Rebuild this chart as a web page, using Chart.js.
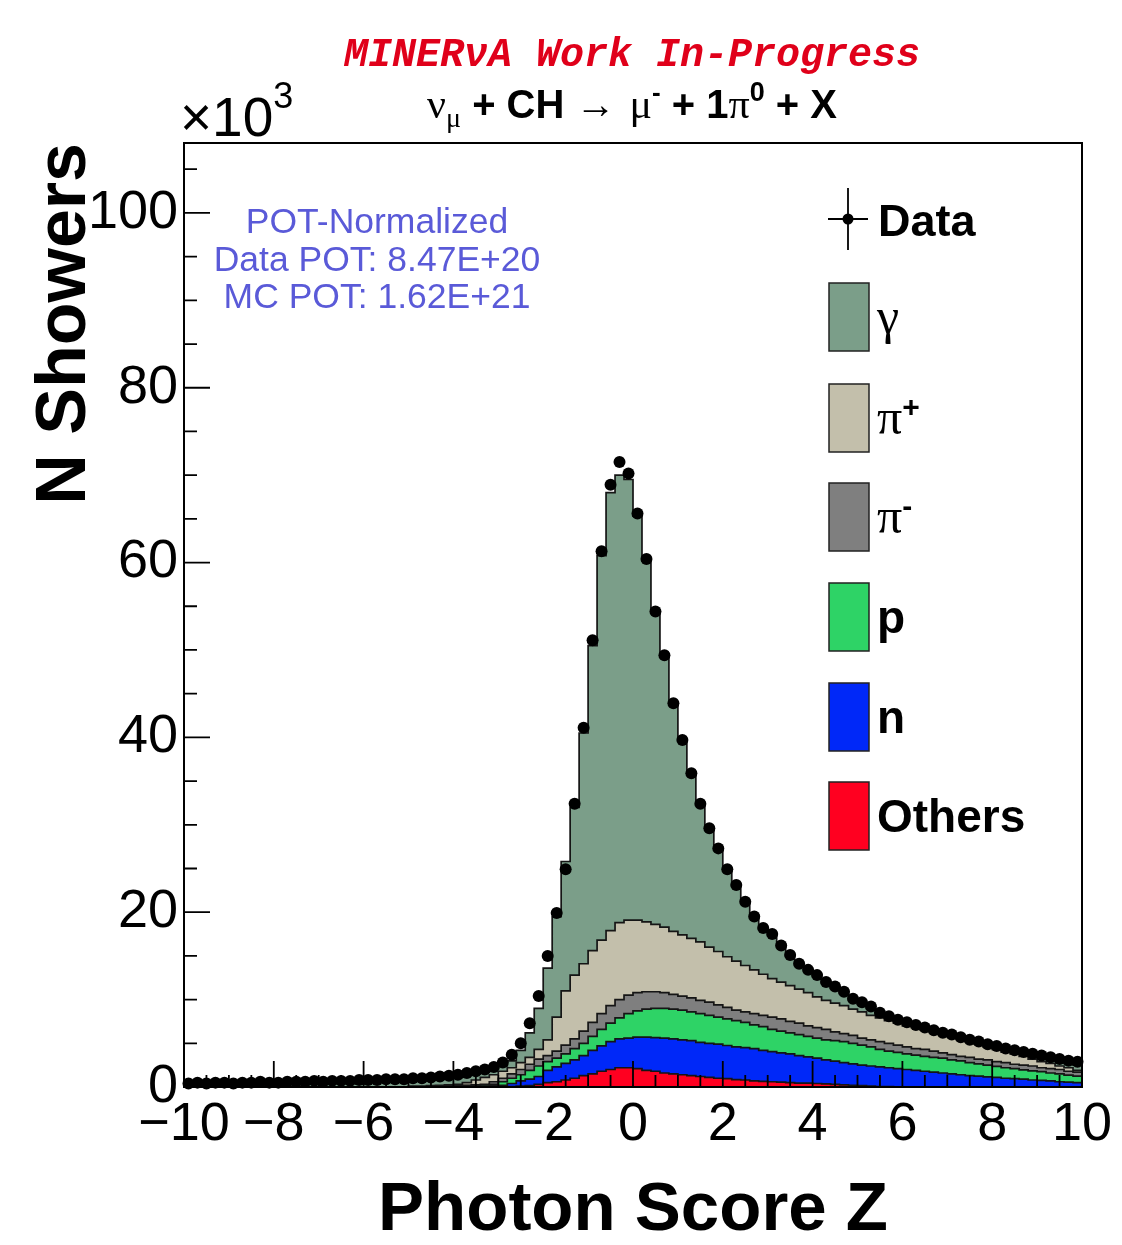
<!DOCTYPE html>
<html>
<head>
<meta charset="utf-8">
<script src="https://cdn.jsdelivr.net/npm/chart.js@4.4.1/dist/chart.umd.min.js"></script>
<style>
  html, body { margin: 0; padding: 0; background: #fff; }
  #wrap { width: 1122px; height: 1245px; }
</style>
</head>
<body>
<div id="wrap"><canvas id="zscore"></canvas></div>
<script>
// 100 bins of 0.2 from -10 to 10, values in units of 10^3 showers
var binLow = -10;
var binWidth = 0.2;

var xTicks = [-10, -8, -6, -4, -2, 0, 2, 4, 6, 8, 10];
var yTicks = [0, 20, 40, 60, 80, 100];

var dataCounts = [
  0.4, 0.5, 0.4, 0.5, 0.5, 0.4, 0.5, 0.5, 0.6, 0.5,
  0.5, 0.6, 0.6, 0.6, 0.7, 0.6, 0.7, 0.7, 0.7, 0.8,
  0.8, 0.8, 0.9, 0.9, 0.9, 1.0, 1.0, 1.1, 1.2, 1.3,
  1.4, 1.6, 1.8, 2.0, 2.3, 2.8, 3.7, 5.0, 7.3, 10.4,
  15.0, 19.9, 24.9, 32.4, 41.1, 51.1, 61.3, 68.9, 71.5, 70.2,
  65.6, 60.4, 54.4, 49.4, 43.9, 39.7, 35.9, 32.4, 29.6, 27.3,
  24.9, 23.1, 21.2, 19.5, 18.2, 17.5, 16.2, 15.1, 14.1, 13.4,
  12.8, 12.0, 11.5, 10.9, 10.1, 9.7, 9.2, 8.5, 8.1, 7.7,
  7.4, 7.1, 6.8, 6.5, 6.2, 6.0, 5.7, 5.4, 5.2, 4.9,
  4.7, 4.4, 4.2, 4.0, 3.8, 3.6, 3.4, 3.2, 3.0, 2.9
];

// upper edge of each stacked MC layer
var othersTop = [
  0, 0, 0, 0, 0, 0, 0, 0, 0, 0,
  0, 0, 0, 0, 0, 0, 0, 0, 0, 0,
  0, 0, 0, 0, 0, 0, 0, 0, 0, 0,
  0, 0, 0, 0, 0, 0, 0.05, 0.1, 0.15, 0.3,
  0.5, 0.6, 0.8, 1.0, 1.3, 1.5, 1.8, 2.0, 2.2, 2.2,
  2.1, 1.9, 1.8, 1.6, 1.5, 1.4, 1.3, 1.2, 1.1, 1.0,
  0.95, 0.85, 0.8, 0.7, 0.65, 0.6, 0.55, 0.5, 0.45, 0.45,
  0.4, 0.35, 0.3, 0.25, 0.2, 0.15, 0.1, 0.05, 0.05, 0,
  0, 0, 0, 0, 0, 0, 0, 0, 0, 0,
  0, 0, 0, 0, 0, 0, 0, 0, 0, 0
];
var neutronTop = [
  0, 0, 0, 0, 0, 0, 0, 0, 0, 0,
  0, 0, 0, 0, 0, 0, 0, 0, 0, 0,
  0, 0, 0, 0, 0, 0, 0, 0, 0.05, 0.05,
  0.05, 0.05, 0.1, 0.1, 0.15, 0.2, 0.4, 0.7, 0.9, 1.2,
  1.9, 2.3, 2.7, 3.1, 3.6, 4.2, 4.7, 5.2, 5.5, 5.6,
  5.7, 5.7, 5.65, 5.6, 5.5, 5.4, 5.3, 5.1, 5.0, 4.9,
  4.75, 4.6, 4.5, 4.4, 4.2, 4.05, 3.9, 3.8, 3.6, 3.45,
  3.3, 3.1, 2.95, 2.8, 2.65, 2.5, 2.4, 2.3, 2.2, 2.1,
  2.0, 1.9, 1.8, 1.7, 1.6, 1.5, 1.4, 1.3, 1.25, 1.15,
  1.1, 1.0, 0.95, 0.9, 0.8, 0.75, 0.7, 0.6, 0.55, 0.5
];
var protonTop = [
  0, 0, 0, 0, 0, 0, 0, 0, 0, 0,
  0, 0, 0, 0, 0, 0, 0, 0, 0, 0,
  0, 0, 0, 0, 0, 0, 0, 0, 0.1, 0.1,
  0.1, 0.15, 0.2, 0.25, 0.3, 0.6, 1.0, 1.4, 1.9, 2.4,
  2.9, 3.3, 3.8, 4.4, 5.0, 5.8, 6.6, 7.3, 7.9, 8.4,
  8.7, 8.9, 9.0, 9.0, 8.9, 8.8, 8.6, 8.4, 8.2, 8.0,
  7.8, 7.6, 7.4, 7.1, 6.9, 6.6, 6.4, 6.2, 6.0, 5.8,
  5.6, 5.4, 5.3, 5.2, 5.0, 4.8, 4.6, 4.3, 4.1, 3.95,
  3.8, 3.65, 3.5, 3.4, 3.3, 3.1, 3.0, 2.8, 2.65, 2.5,
  2.35, 2.2, 2.1, 1.95, 1.85, 1.75, 1.6, 1.5, 1.35, 1.25
];
var piMinusTop = [
  0, 0, 0, 0, 0, 0, 0, 0, 0, 0,
  0, 0, 0, 0, 0, 0, 0, 0, 0, 0,
  0, 0, 0, 0, 0, 0, 0, 0, 0.1, 0.12,
  0.15, 0.2, 0.25, 0.3, 0.6, 1.0, 1.5, 2.0, 2.6, 3.2,
  3.6, 4.1, 4.8, 5.5, 6.4, 7.4, 8.4, 9.3, 10.0, 10.5,
  10.8, 10.9, 10.9, 10.8, 10.6, 10.4, 10.2, 9.9, 9.7, 9.4,
  9.1, 8.8, 8.6, 8.4, 8.2, 8.0, 7.8, 7.5, 7.3, 7.0,
  6.8, 6.6, 6.3, 6.1, 5.9, 5.6, 5.4, 5.2, 5.0, 4.8,
  4.6, 4.4, 4.3, 4.1, 3.9, 3.7, 3.5, 3.4, 3.2, 3.1,
  2.9, 2.8, 2.6, 2.5, 2.4, 2.2, 2.1, 2.0, 1.8, 1.7
];
var piPlusTop = [
  0, 0, 0, 0, 0, 0, 0, 0, 0, 0,
  0, 0, 0, 0, 0, 0, 0, 0, 0, 0,
  0, 0, 0, 0, 0, 0.1, 0.1, 0.15, 0.2, 0.25,
  0.3, 0.5, 0.8, 1.1, 1.4, 1.8, 2.2, 2.8, 3.4, 4.3,
  5.4, 8.0, 11.0, 12.8, 14.1, 15.6, 16.8, 17.9, 18.8, 19.1,
  19.1, 18.9, 18.6, 18.3, 17.8, 17.4, 17.0, 16.6, 16.0, 15.5,
  14.9, 14.4, 13.9, 13.4, 12.9, 12.4, 12.0, 11.6, 11.2, 10.8,
  10.3, 9.9, 9.6, 9.3, 8.9, 8.6, 8.2, 7.9, 7.6, 7.3,
  7.0, 6.8, 6.5, 6.3, 6.1, 5.8, 5.5, 5.2, 4.9, 4.6,
  4.3, 4.0, 3.8, 3.5, 3.2, 2.9, 2.7, 2.4, 2.2, 1.9
];
var gammaTop = [
  0.3, 0.3, 0.3, 0.3, 0.3, 0.3, 0.3, 0.35, 0.35, 0.35,
  0.4, 0.4, 0.4, 0.4, 0.45, 0.45, 0.5, 0.5, 0.5, 0.55,
  0.55, 0.6, 0.6, 0.65, 0.7, 0.7, 0.75, 0.8, 0.9, 1.0,
  1.1, 1.3, 1.5, 1.7, 2.0, 2.4, 3.0, 4.2, 6.2, 9.0,
  13.6, 19.5, 25.8, 32.0, 40.5, 50.5, 60.8, 68.0, 70.0, 69.5,
  65.3, 60.2, 54.3, 49.3, 43.8, 39.6, 35.8, 32.3, 29.5, 27.2,
  24.8, 23.0, 21.1, 19.4, 18.1, 17.3, 16.1, 15.0, 14.0, 13.3,
  12.6, 11.9, 11.3, 10.7, 10.0, 9.5, 9.0, 8.4, 8.0, 7.6,
  7.3, 7.0, 6.7, 6.4, 6.1, 5.9, 5.6, 5.3, 5.1, 4.8,
  4.6, 4.3, 4.1, 3.8, 3.6, 3.4, 3.2, 3.0, 2.7, 2.5
];

var SANS = "'Liberation Sans', Arial, Helvetica, sans-serif";
var SERIF = "'Liberation Serif', 'Times New Roman', serif";

var layers = [
  { label: 'Others', tops: othersTop, color: '#ff0020' },
  { label: 'n', tops: neutronTop, color: '#0028f8' },
  { label: 'p', tops: protonTop, color: '#2ed366' },
  { label: 'pi-', tops: piMinusTop, color: '#7f7f7f' },
  { label: 'pi+', tops: piPlusTop, color: '#c3bfab' },
  { label: 'gamma', tops: gammaTop, color: '#7b9e89' }
];

// step points on bin low edges, closing point at the upper edge
function histPoints(tops) {
  var pts = tops.map(function (v, i) { return { x: binLow + i * binWidth, y: v }; });
  pts.push({ x: binLow + tops.length * binWidth, y: tops[tops.length - 1] });
  return pts;
}

var datasets = layers.map(function (l, i) {
  return {
    label: l.label,
    data: histPoints(l.tops),
    stepped: 'before',
    borderColor: '#151515',
    borderWidth: 1.7,
    backgroundColor: l.color,
    fill: i === 0 ? 'origin' : '-1',
    pointRadius: 0,
    order: 1
  };
});

datasets.push({
  label: 'Data',
  data: dataCounts.map(function (v, i) { return { x: binLow + (i + 0.5) * binWidth, y: v }; }),
  showLine: false,
  fill: false,
  pointRadius: 6,
  pointBackgroundColor: '#000',
  pointBorderColor: '#000',
  pointBorderWidth: 0,
  clip: 8,
  order: -1
});

// data horizontal bars (bin width)
var dataErrors = {
  id: 'dataErrors',
  afterDatasetsDraw: function (chart) {
    var ctx = chart.ctx, x = chart.scales.x, y = chart.scales.y;
    ctx.save();
    ctx.strokeStyle = '#000';
    ctx.lineWidth = 2;
    ctx.beginPath();
    dataCounts.forEach(function (v, i) {
      var lo = binLow + i * binWidth;
      var py = y.getPixelForValue(v);
      ctx.moveTo(x.getPixelForValue(lo), py);
      ctx.lineTo(x.getPixelForValue(lo + binWidth), py);
    });
    ctx.stroke();
    ctx.restore();
  }
};

// ROOT-like frame with inward ticks
var frameTicks = {
  id: 'frameTicks',
  afterDatasetsDraw: function (chart) {
    var ctx = chart.ctx, a = chart.chartArea, x = chart.scales.x, y = chart.scales.y;
    ctx.save();
    ctx.strokeStyle = '#000';
    ctx.lineWidth = 2;
    ctx.strokeRect(a.left, a.top, a.right - a.left, a.bottom - a.top);
    ctx.lineWidth = 1.8;
    ctx.beginPath();
    for (var v = x.min; v <= x.max + 1e-6; v += 0.5) {
      var px = x.getPixelForValue(v);
      var len = Math.abs(v % 2) < 1e-6 ? 26 : 12;
      ctx.moveTo(px, a.bottom);
      ctx.lineTo(px, a.bottom - len);
    }
    for (var w = 0; w <= y.max; w += 5) {
      var py = y.getPixelForValue(w);
      var l2 = w % 20 === 0 ? 26 : 13;
      ctx.moveTo(a.left, py);
      ctx.lineTo(a.left + l2, py);
    }
    ctx.stroke();
    ctx.restore();
  }
};

function drawRuns(ctx, runs, x0, base) {
  var x = x0;
  runs.forEach(function (r) {
    ctx.font = r.font;
    ctx.fillStyle = r.color || '#000';
    ctx.fillText(r.t, x, base + (r.dy || 0));
    x += ctx.measureText(r.t).width + (r.gap || 0);
  });
}
function runsWidth(ctx, runs) {
  var w = 0;
  runs.forEach(function (r) { ctx.font = r.font; w += ctx.measureText(r.t).width + (r.gap || 0); });
  return w;
}

var annotations = {
  id: 'annotations',
  afterDraw: function (chart) {
    var ctx = chart.ctx;
    ctx.save();
    ctx.textBaseline = 'alphabetic';
    ctx.textAlign = 'left';

    // preliminary label
    ctx.font = "italic bold 40px 'Liberation Mono', 'Courier New', monospace";
    ctx.fillStyle = '#e0001a';
    ctx.textAlign = 'center';
    ctx.fillText('MINERνA Work In-Progress', 632, 66);
    ctx.textAlign = 'left';

    // process line
    var b40 = 'bold 40px ' + SANS;
    var s40 = '42px ' + SERIF;
    var runs = [
      { t: 'ν', font: s40 },
      { t: 'μ', font: '28px ' + SERIF, dy: 9 },
      { t: ' + CH ', font: b40 },
      { t: '→', font: '40px ' + SERIF, gap: 14 },
      { t: 'μ', font: s40 },
      { t: '-', font: 'bold 26px ' + SANS, dy: -17 },
      { t: ' + 1', font: b40 },
      { t: 'π', font: s40 },
      { t: '0', font: 'bold 27px ' + SANS, dy: -17 },
      { t: ' + X', font: b40 }
    ];
    drawRuns(ctx, runs, 632 - runsWidth(ctx, runs) / 2, 118);

    // axis multiplier
    drawRuns(ctx, [
      { t: '×10', font: '55px ' + SANS },
      { t: '3', font: '36px ' + SANS, dy: -28 }
    ], 180, 136);

    // POT box
    ctx.font = '35.5px ' + SANS;
    ctx.fillStyle = '#5a5ad8';
    ctx.textAlign = 'center';
    ctx.fillText('POT-Normalized', 377, 233);
    ctx.fillText('Data POT: 8.47E+20', 377, 271);
    ctx.fillText('MC POT: 1.62E+21', 377, 308);
    ctx.textAlign = 'left';

    // legend
    ctx.strokeStyle = '#000';
    ctx.lineWidth = 1.8;
    ctx.beginPath();
    ctx.moveTo(848, 188); ctx.lineTo(848, 250);
    ctx.moveTo(828, 219); ctx.lineTo(868, 219);
    ctx.stroke();
    ctx.beginPath();
    ctx.arc(848, 219, 5.5, 0, Math.PI * 2);
    ctx.fillStyle = '#000';
    ctx.fill();
    drawRuns(ctx, [{ t: 'Data', font: 'bold 45px ' + SANS }], 878, 236);

    var entries = [
      { layer: 5, cy: 317, runs: [{ t: 'γ', font: '50px ' + SERIF }] },
      { layer: 4, cy: 418, runs: [{ t: 'π', font: '50px ' + SERIF }, { t: '+', font: 'bold 30px ' + SANS, dy: -17 }] },
      { layer: 3, cy: 517, runs: [{ t: 'π', font: '50px ' + SERIF }, { t: '-', font: 'bold 30px ' + SANS, dy: -17 }] },
      { layer: 2, cy: 617, runs: [{ t: 'p', font: 'bold 46px ' + SANS }] },
      { layer: 1, cy: 717, runs: [{ t: 'n', font: 'bold 46px ' + SANS }] },
      { layer: 0, cy: 816, runs: [{ t: 'Others', font: 'bold 46px ' + SANS }] }
    ];
    entries.forEach(function (e) {
      ctx.fillStyle = layers[e.layer].color;
      ctx.fillRect(829, e.cy - 34, 40, 68);
      ctx.strokeStyle = '#222';
      ctx.lineWidth = 1.5;
      ctx.strokeRect(829, e.cy - 34, 40, 68);
      drawRuns(ctx, e.runs, 877, e.cy + 16);
    });
    ctx.restore();
  }
};

var ctx = document.getElementById('zscore').getContext('2d');
var zChart = new Chart(ctx, {
  type: 'line',
  data: { datasets: datasets },
  options: {
    responsive: true,
    maintainAspectRatio: false,
    animation: false,
    devicePixelRatio: 1,
    layout: { padding: { top: 143, right: 40, left: 0, bottom: 0 } },
    elements: { line: { tension: 0 } },
    plugins: {
      legend: { display: false },
      tooltip: { enabled: false }
    },
    scales: {
      x: {
        type: 'linear',
        min: -10,
        max: 10,
        grid: { display: false, drawTicks: false },
        border: { display: false },
        afterBuildTicks: function (s) { s.ticks = xTicks.map(function (v) { return { value: v }; }); },
        ticks: {
          autoSkip: false,
          maxRotation: 0,
          padding: 6,
          color: '#000',
          font: { family: SANS, size: 54 },
          callback: function (v) { return String(v).replace('-', '\u2212'); }
        },
        title: {
          display: true,
          text: 'Photon Score Z',
          color: '#000',
          font: { family: SANS, size: 69, weight: 'bold', lineHeight: 1 },
          padding: { top: 0, bottom: 0 }
        },
        afterFit: function (s) { s.height = 158; }
      },
      y: {
        type: 'linear',
        min: 0,
        max: 108,
        grid: { display: false, drawTicks: false },
        border: { display: false },
        afterBuildTicks: function (s) { s.ticks = yTicks.map(function (v) { return { value: v }; }); },
        ticks: {
          padding: 6,
          color: '#000',
          font: { family: SANS, size: 54 }
        },
        title: {
          display: true,
          text: 'N Showers',
          align: 'end',
          color: '#000',
          font: { family: SANS, size: 70, weight: 'bold', lineHeight: 1 },
          padding: { top: 31, bottom: 0 }
        },
        afterFit: function (s) { s.width = 184; }
      }
    }
  },
  plugins: [dataErrors, frameTicks, annotations]
});
</script>
</body>
</html>
